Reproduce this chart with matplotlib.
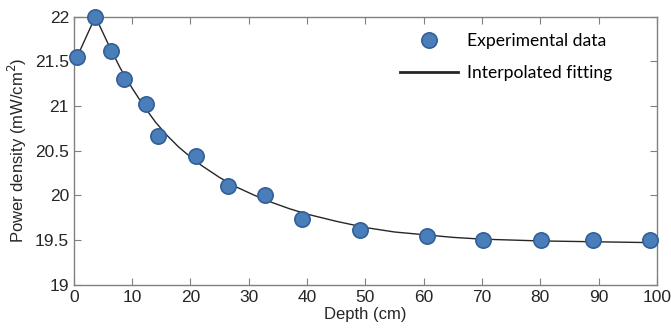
import matplotlib
matplotlib.use('Agg')
import matplotlib.pyplot as plt

# experimental points
depth = [0.57, 3.7, 6.35, 8.58, 12.3, 14.5, 20.9, 26.4, 32.8, 39.2, 49.1, 60.6, 70.2, 80.2, 89.0, 98.9]
power = [21.55, 22.0, 21.62, 21.30, 21.02, 20.66, 20.44, 20.10, 20.0, 19.74, 19.61, 19.55, 19.50, 19.50, 19.50, 19.50]

# fitted curve
fit_x = [0.57, 3.7, 6, 8, 10, 12, 14, 16, 18, 20, 22, 25, 28, 31, 34, 37, 40, 45, 50, 55,
         60, 65, 70, 75, 80, 85, 90, 95, 100]
fit_y = [21.55, 22.0, 21.68, 21.42, 21.2, 21.0, 20.82, 20.67, 20.54, 20.43, 20.33, 20.2, 20.09,
         20.0, 19.92, 19.85, 19.79, 19.71, 19.64, 19.59, 19.56, 19.53, 19.51, 19.50, 19.49,
         19.485, 19.48, 19.475, 19.47]

plt.rcParams['font.family'] = ['Liberation Sans', 'DejaVu Sans']

fig = plt.figure(figsize=(6.71, 3.33), dpi=100)
ax = fig.add_axes([0.110, 0.145, 0.869, 0.805])

ax.plot(fit_x, fit_y, color='#262626', lw=1.0, label='Interpolated fitting', zorder=2)
ax.plot(depth, power, 'o', ms=11, mfc='#4a7ebb', mec='#325f96', mew=1.2,
        label='Experimental data', zorder=3, clip_on=False)

ax.set_xlim(0, 100)
ax.set_ylim(19, 22)
ax.set_xticks(range(0, 101, 10))
ax.set_yticks([19, 19.5, 20, 20.5, 21, 21.5, 22])
ax.set_yticklabels(['19', '19.5', '20', '20.5', '21', '21.5', '22'])

for s in ax.spines.values():
    s.set_color('#808080')
    s.set_linewidth(1.0)
ax.tick_params(direction='in', top=True, right=True, length=5, color='#808080',
               labelsize=12.5, labelcolor='#262626')

ax.set_xlabel('Depth (cm)', fontsize=12, color='#262626', labelpad=2)
ax.set_ylabel('Power density (mW/cm$^2$)', fontsize=12, color='#262626', labelpad=4)

h, l = ax.get_legend_handles_labels()
leg = ax.legend([h[1], h[0]], [l[1], l[0]], loc='upper left', frameon=False,
                prop={'family': 'Lato', 'size': 12.6}, handlelength=3.3,
                handletextpad=0.5, bbox_to_anchor=(0.533, 0.998), labelspacing=0.9)
leg.legend_handles[1].set_linewidth(2.0)

fig.savefig('out.png', dpi=100)
